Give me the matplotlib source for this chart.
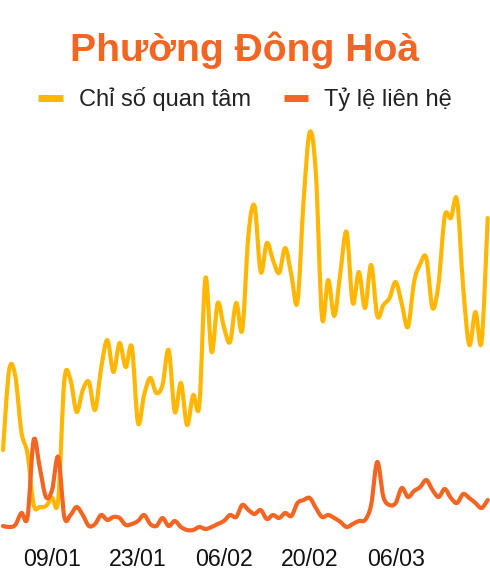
import matplotlib
matplotlib.use("Agg")
import matplotlib.pyplot as plt
import matplotlib.dates as mdates
from matplotlib.path import Path
from matplotlib.patches import PathPatch
from matplotlib.lines import Line2D
import numpy as np
import pandas as pd

plt.rcParams['font.family'] = ['Liberation Sans', 'DejaVu Sans']

# daily values, 01/01 -> 21/03
start_date = '2025-01-01'
interest = [21, 41, 39.5, 25.5, 20, 7.25, 6.75, 7, 9, 8.5,
            38.5, 38.5, 30.5, 36, 38, 31, 41.5, 48.5, 40.5, 47.75,
            41.75, 46.75, 27.75, 34.75, 39, 35.25, 37.25, 46, 30.5, 37.75,
            27.25, 34.75, 32.25, 64, 45.5, 57.75, 51.75, 48, 57.75, 51,
            74.75, 82, 65.5, 72.75, 68.5, 65.25, 71.5, 64.75, 58, 83.5,
            100.5, 90, 54, 63.5, 54.5, 65.5, 75.5, 57.75, 65.5, 56.5,
            67.25, 54.5, 57.25, 59, 63, 57.5, 51.75, 63, 67.5, 69,
            56.5, 62.75, 79.5, 79, 83.5, 61.75, 47.25, 55.5, 48, 79]
contact = [2, 1.75, 2.25, 5.25, 4.25, 23.5, 16.5, 9.25, 11, 19.25,
           4.25, 4.75, 6.75, 4.75, 2, 2.5, 4.75, 3.5, 4.25, 4,
           2.25, 2.5, 3.25, 4.75, 2.5, 2, 4, 2, 3.25, 1.75,
           1, 1, 1.75, 1.25, 1.75, 2.5, 3.25, 4.75, 4.25, 7.25,
           6, 5, 6, 3.75, 4.75, 4, 5.25, 4.5, 7.75, 8.5,
           9, 6.5, 4.25, 4.75, 4, 3, 1.75, 2.5, 3.25, 3.5,
           7.25, 18, 9.25, 7.25, 7.75, 11.5, 9.25, 10.75, 11.75, 13.5,
           11, 9.25, 11.25, 9, 7.75, 10, 9, 7.75, 6.5, 8.5]
series_names = ['Chỉ số quan tâm', 'Tỷ lệ liên hệ']
series_colors = ['#FFB703', '#F26522']
tick_labels = ['09/01', '23/01', '06/02', '20/02', '06/03']

dates = pd.date_range(start_date, periods=len(interest))
x = mdates.date2num(dates)


def smooth_path(xs, ys):
    # catmull-rom -> cubic bezier segments
    pts = np.column_stack([xs, ys])
    verts = [pts[0]]
    codes = [Path.MOVETO]
    n = len(pts)
    for i in range(n - 1):
        p0 = pts[max(i - 1, 0)]
        p1 = pts[i]
        p2 = pts[i + 1]
        p3 = pts[min(i + 2, n - 1)]
        c1 = p1 + (p2 - p0) / 6.0
        c2 = p2 - (p3 - p1) / 6.0
        verts += [c1, c2, p2]
        codes += [Path.CURVE4] * 3
    return Path(verts, codes)


fig = plt.figure(figsize=(4.9, 5.76), dpi=100)
ax = fig.add_axes([3 / 490, 42 / 576, 484.7 / 490, 420 / 576])

for vals, col in zip([interest, contact], series_colors):
    patch = PathPatch(smooth_path(x, vals), facecolor='none', edgecolor=col,
                      lw=3.0, capstyle='round', joinstyle='round', clip_on=False)
    ax.add_patch(patch)

ax.set_xlim(x[0], x[-1])
ax.set_ylim(0, 105)
ax.set_yticks([])
ticks = x[8::14][:len(tick_labels)]
ax.set_xticks(ticks)
ax.set_xticklabels(tick_labels, fontsize=16.7, color='#111111')
ax.tick_params(axis='x', length=0, pad=10)
for s in ax.spines.values():
    s.set_visible(False)

fig.text(0.5, 1 - 61 / 576, 'Phường Đông Hoà', ha='center', va='baseline',
         fontsize=28.2, fontweight='bold', color='#F26522')

handles = [Line2D([], [], color=c, lw=5, solid_capstyle='butt') for c in series_colors]
fig.legend(handles, series_names, loc='center', bbox_to_anchor=(0.5, 1 - 99 / 576),
           ncol=2, frameon=False, fontsize=17, handlelength=1.03, handletextpad=0.68,
           columnspacing=1.4, labelcolor='#222222')

fig.savefig('out.png', dpi=100)
